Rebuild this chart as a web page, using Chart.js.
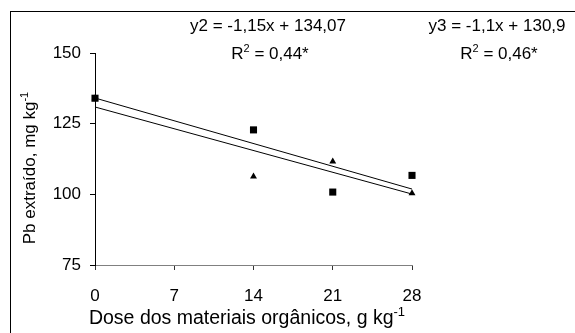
<!DOCTYPE html>
<html>
<head>
<meta charset="utf-8">
<script src="https://cdn.jsdelivr.net/npm/chart.js@4.4.0/dist/chart.umd.min.js"></script>
<style>
  html, body { margin: 0; padding: 0; background: #fff; }
  #wrap { width: 575px; height: 333px; }
</style>
</head>
<body>
<div id="wrap"><canvas id="pbChart" width="575" height="333"></canvas></div>
<script>
// doses (g kg-1) and extracted Pb (mg kg-1) for each material
const doses = [0, 14, 21, 28];
const pbY2 = [134, 122.8, 100.8, 106.7];
const pbY3 = [134, 106.3, 111.6, 100.4];

// fitted regressions: slope, intercept, R2
const slopes = [-1.15, -1.1];
const intercepts = [134.07, 130.9];
const rSquared = [0.44, 0.46];
const fitNames = ['y2', 'y3'];

const xTicks = [0, 7, 14, 21, 28];
const yTicks = [75, 100, 125, 150];

const FONT = "'Liberation Sans', Arial, sans-serif";

function fmt(v){
  return String(v).replace('.', ',');
}

function fitLine(i){
  const x0 = doses[0];
  const x1 = doses[doses.length - 1];
  return [
    {x: x0, y: slopes[i] * x0 + intercepts[i]},
    {x: x1, y: slopes[i] * x1 + intercepts[i]}
  ];
}

// draws text with superscript pieces, parts = [[text, isSup], ...]
function drawRich(ctx, parts, x, y, align, size){
  size = size || 17;
  const normal = size + 'px ' + FONT;
  const small = Math.round(size * 0.65) + 'px ' + FONT;
  let total = 0;
  parts.forEach(p => {
    ctx.font = p[1] ? small : normal;
    total += ctx.measureText(p[0]).width;
  });
  let cx = x;
  if(align === 'center') cx = x - total / 2;
  ctx.textAlign = 'left';
  ctx.textBaseline = 'alphabetic';
  parts.forEach(p => {
    ctx.font = p[1] ? small : normal;
    ctx.fillText(p[0], cx, p[1] ? y - size * 0.42 : y);
    cx += ctx.measureText(p[0]).width;
  });
}

const labelsPlugin = {
  id: 'labelsPlugin',
  afterDraw(chart){
    const ctx = chart.ctx;
    ctx.save();
    ctx.strokeStyle = '#000';
    ctx.lineWidth = 1;
    ctx.strokeRect(10.5, 11.5, 700, 500);

    ctx.fillStyle = '#000';
    const eqX = [268, 497];
    for(let i = 0; i < 2; i++){
      drawRich(ctx, [[fitNames[i] + ' = ' + fmt(slopes[i]) + 'x + ' + fmt(intercepts[i]), false]], eqX[i], 31, 'center');
      drawRich(ctx, [['R', false], ['2', true], [' = ' + fmt(rSquared[i]) + '*', false]], eqX[i] + 2, 59, 'center');
    }

    drawRich(ctx, [['Dose dos materiais orgânicos, g kg', false], ['-1', true]], 247, 324, 'center', 19.5);

    ctx.translate(35, 168);
    ctx.rotate(-Math.PI / 2);
    drawRich(ctx, [['Pb extraído, mg kg', false], ['-1', true]], 0, 0, 'center');
    ctx.restore();
  }
};

const ctx = document.getElementById('pbChart').getContext('2d');

new Chart(ctx, {
  type: 'scatter',
  data: {
    datasets: [
      {
        label: 'y2',
        data: doses.map((d, i) => ({x: d, y: pbY2[i]})),
        pointStyle: 'rect',
        pointRadius: 5,
        pointBorderWidth: 0,
        backgroundColor: '#000',
        clip: false
      },
      {
        label: 'y3',
        data: doses.map((d, i) => ({x: d, y: pbY3[i]})),
        pointStyle: 'triangle',
        pointRadius: 4,
        pointBorderWidth: 0,
        backgroundColor: '#000',
        clip: false
      },
      {
        type: 'line',
        label: 'fit y2',
        data: fitLine(0),
        borderColor: '#000',
        borderWidth: 1,
        pointRadius: 0,
        fill: false,
        clip: false
      },
      {
        type: 'line',
        label: 'fit y3',
        data: fitLine(1),
        borderColor: '#000',
        borderWidth: 1,
        pointRadius: 0,
        fill: false,
        clip: false
      }
    ]
  },
  options: {
    responsive: false,
    animation: false,
    layout: { padding: { top: 53, right: 163, left: 0, bottom: 0 } },
    plugins: {
      legend: { display: false },
      tooltip: { enabled: false }
    },
    scales: {
      x: {
        type: 'linear',
        min: 0,
        max: 28,
        afterFit: (scale) => { scale.height = 68; },
        afterBuildTicks: (scale) => { scale.ticks = xTicks.map(v => ({value: v})); },
        border: { display: true, color: '#808080', width: 1 },
        grid: { drawOnChartArea: false, drawTicks: true, tickLength: 5, color: '#333' },
        ticks: { color: '#000', padding: 16, font: { family: FONT, size: 17 } }
      },
      y: {
        min: 75,
        max: 150,
        afterFit: (scale) => { scale.width = 95; },
        afterBuildTicks: (scale) => { scale.ticks = yTicks.map(v => ({value: v})); },
        border: { display: true, color: '#000', width: 1 },
        grid: { drawOnChartArea: false, drawTicks: true, tickLength: 5, color: '#000' },
        ticks: { color: '#000', padding: 9, font: { family: FONT, size: 17 } }
      }
    }
  },
  plugins: [labelsPlugin]
});
</script>
</body>
</html>
